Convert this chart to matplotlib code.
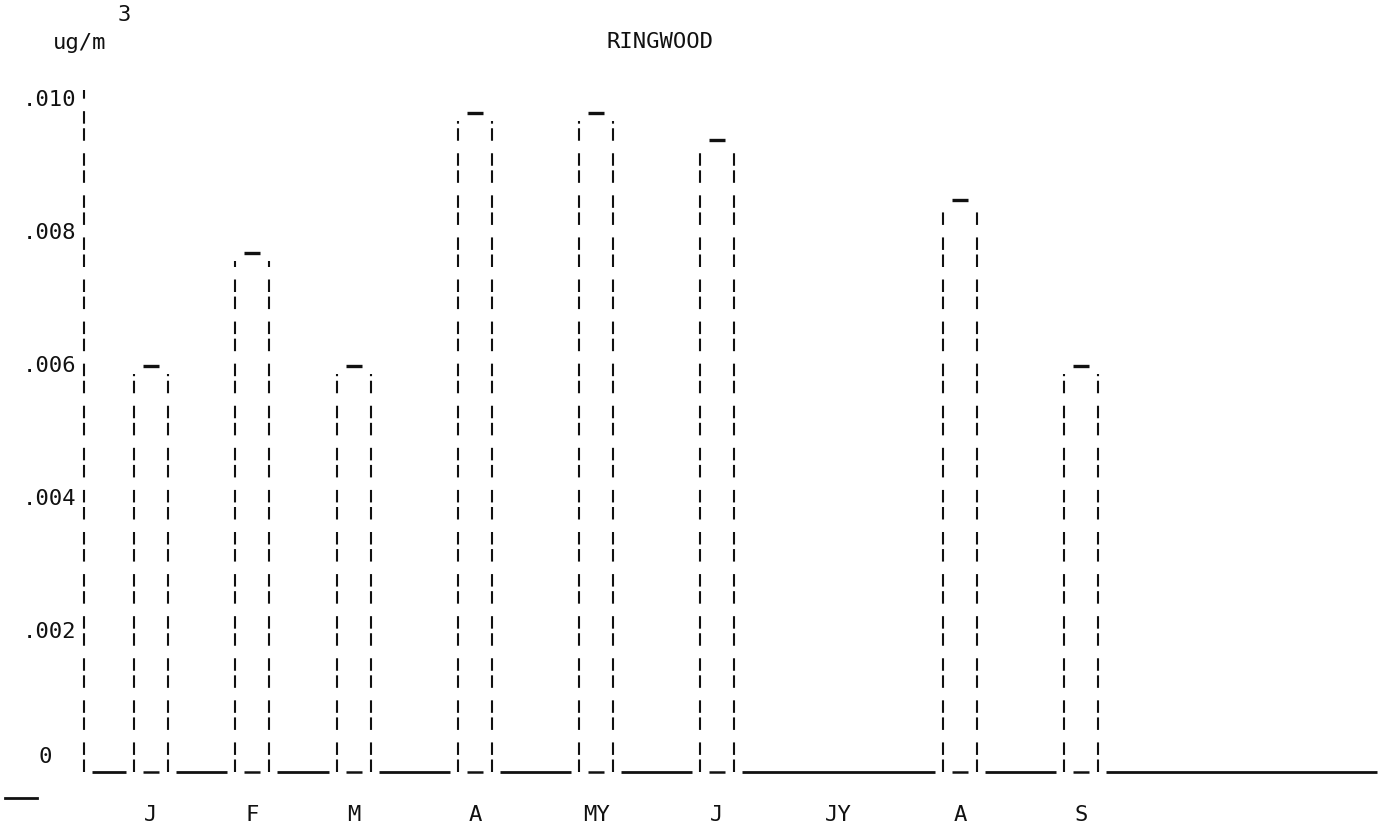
import matplotlib.pyplot as plt
import numpy as np

# data
months = ['J', 'F', 'M', 'A', 'MY', 'J', 'JY', 'A', 'S']
conc = [0.0060, 0.0077, 0.0060, 0.0098, 0.0098, 0.0094, 0.0, 0.0085, 0.0060]
yticks = [0.010, 0.008, 0.006, 0.004, 0.002, 0.0]
ytick_labels = ['.010', '.008', '.006', '.004', '.002', '0']

# layout (horizontal positions of the month columns, in pixels)
month_x = [151, 252, 354, 475, 596, 717, 838, 960, 1081]
half_w = 17
axis_x = 84
base = -0.0001

ink = '#111111'
dash = (0, (6.0, 2.2, 6.0, 6.0))
font = {'family': 'DejaVu Sans Mono', 'size': 16, 'color': ink}

fig = plt.figure(figsize=(13.79, 8.3), dpi=100)
ax = fig.add_axes([0, 0, 1, 1])
ax.set_xlim(0, 1379)
px = 0.002 / 133.0          # value per pixel
ax.set_ylim(0.010 - 730 * px, 0.010 + 100 * px)
ax.axis('off')

# y axis as a dashed line with labels
ax.plot([axis_x, axis_x], [base, 0.010 + 10 * px], color=ink, lw=1.5, ls=dash)
for v, lab in zip(yticks, ytick_labels):
    yy = v if v > 0 else v + 8 * px
    xx = axis_x - 8 if v > 0 else axis_x - 32
    ax.text(xx, yy, lab, ha='right', va='center', fontdict=font)

# bars: dashed sides, short cap, short underscore at the bottom
edges = [axis_x]
for x, v in zip(month_x, conc):
    if v <= 0:
        continue
    l, r = x - half_w, x + half_w
    top = v - 8 * px
    ax.plot([l, l], [base, top], color=ink, lw=1.5, ls=dash)
    ax.plot([r, r], [base, top], color=ink, lw=1.5, ls=dash)
    ax.plot([x - 8, x + 8], [v, v], color=ink, lw=2.4, solid_capstyle='butt')
    ax.plot([x - 8, x + 8], [base, base], color=ink, lw=1.8, solid_capstyle='butt')
    edges += [l, r]
edges.append(1385)

# baseline between bars
pairs = [(edges[0], edges[1])] + [(edges[i], edges[i + 1]) for i in range(2, len(edges) - 1, 2)]
for a, b in pairs:
    ax.plot([a + 8, b - 8], [base, base], color=ink, lw=2.0, solid_capstyle='butt')

# month labels
for x, m in zip(month_x, months):
    ax.text(x, 0.010 - 715 * px, m, ha='center', va='center', fontdict=font)

# small mark lower left
ax.plot([5, 37], [0.010 - 698 * px] * 2, color=ink, lw=2.0)

# title and unit
ax.text(660, 0.010 + 58 * px, 'RINGWOOD', ha='center', va='center', fontdict=font)
ax.text(80, 0.010 + 57 * px, 'ug/m', ha='center', va='center', fontdict=font)
ax.text(124, 0.010 + 85 * px, '3', ha='center', va='center', fontdict=font)

fig.savefig('out.png', dpi=100)
